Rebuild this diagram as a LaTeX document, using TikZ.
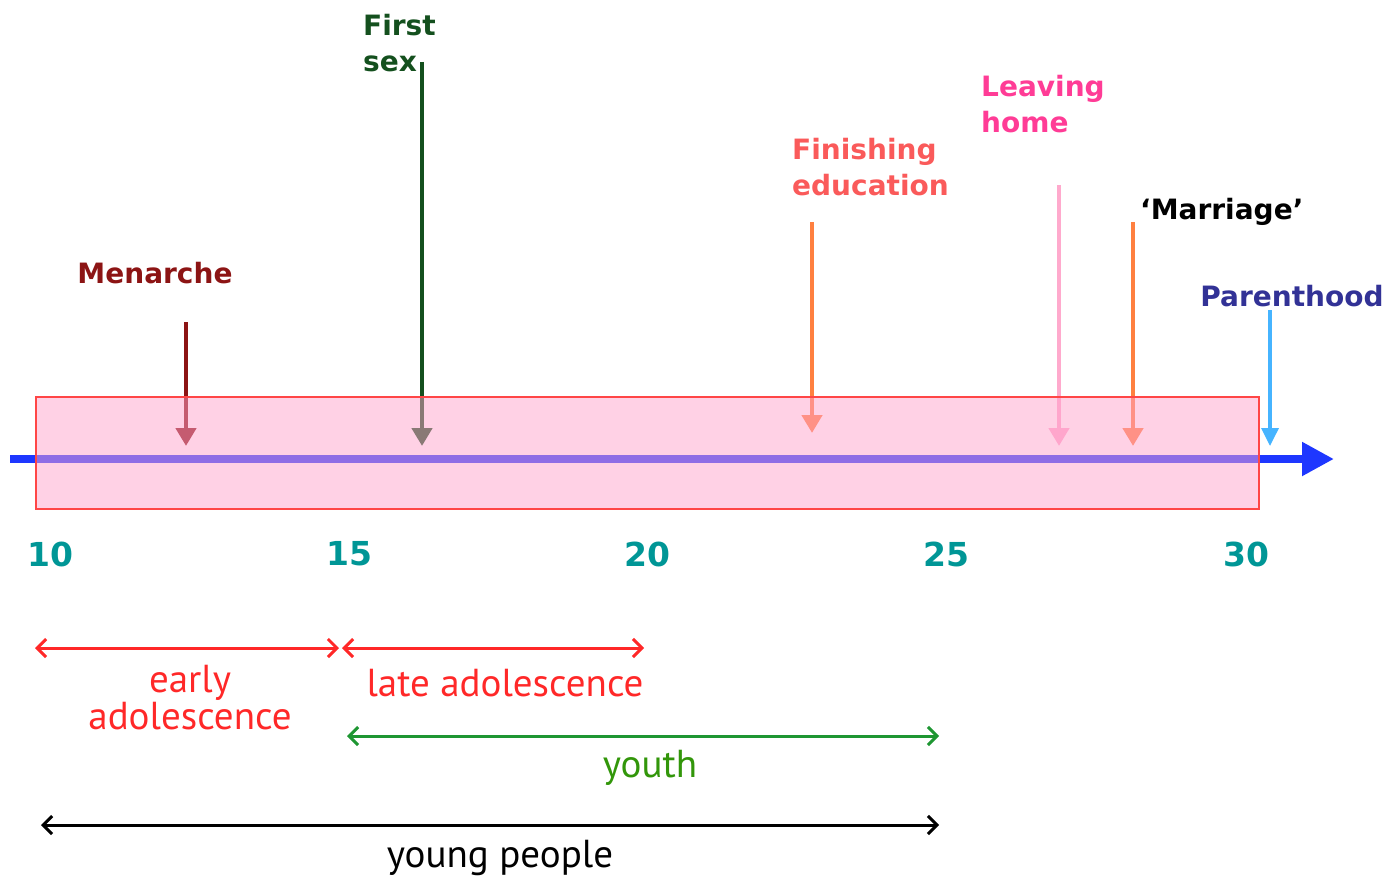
\documentclass[tikz,border=0pt]{standalone}
\usepackage{fontspec}
\setmainfont{DejaVu Sans}
\newfontfamily\ptsans{PT Sans}
\usetikzlibrary{arrows.meta}
\definecolor{axisblue}{RGB}{30,55,255}
\definecolor{boxpink}{RGB}{255,163,204}
\definecolor{boxline}{RGB}{255,70,70}
\definecolor{teal}{RGB}{0,150,150}
\definecolor{menred}{RGB}{140,20,20}
\definecolor{sexgreen}{RGB}{20,80,30}
\definecolor{eduorange}{RGB}{255,128,64}
\definecolor{edutext}{RGB}{250,90,90}
\definecolor{leavepink}{RGB}{255,170,205}
\definecolor{leavetext}{RGB}{255,60,150}
\definecolor{parblue}{RGB}{70,180,255}
\definecolor{partext}{RGB}{50,50,150}
\definecolor{spanred}{RGB}{255,40,40}
\definecolor{spangreen}{RGB}{30,150,50}
\definecolor{youthgreen}{RGB}{50,150,10}
\tikzset{
  evlabel/.style={font=\fontsize{28}{36}\selectfont\bfseries, inner sep=0pt, align=left},
  tick/.style={font=\fontsize{33}{36}\selectfont\bfseries, text=teal, inner sep=0pt},
  event/.style={line width=4.5pt, -{Triangle[width=20pt,length=18pt]}},
  span/.style={line width=3pt, {Straight Barb[width=18pt,length=9pt,line width=3pt]}-{Straight Barb[width=18pt,length=9pt,line width=3pt]}},
  spanlabel/.style={font=\ptsans\fontsize{39}{37}\selectfont, inner sep=0pt, align=center}
}
\begin{document}
\begin{tikzpicture}[x=1pt,y=-1pt]
\useasboundingbox (0,0) rectangle (1391,880);
% axis
\coordinate (axL) at (10,459);
\coordinate (axR) at (1334,459);
\draw[axisblue, line width=8pt, -{Triangle[width=32pt,length=32pt]}] (axL) -- (axR);
% event arrows
\coordinate (m1) at (186,322); \coordinate (m2) at (186,446);
\draw[event, menred] (m1) -- (m2);
\coordinate (s1) at (422,62); \coordinate (s2) at (422,446);
\draw[event, sexgreen] (s1) -- (s2);
\coordinate (e1) at (812,222); \coordinate (e2) at (812,433);
\draw[event, eduorange] (e1) -- (e2);
\coordinate (l1) at (1059,185); \coordinate (l2) at (1059,446);
\draw[event, leavepink] (l1) -- (l2);
\coordinate (w1) at (1133,222); \coordinate (w2) at (1133,446);
\draw[event, eduorange] (w1) -- (w2);
% box
\node[draw=boxline, line width=2pt, fill=boxpink, fill opacity=0.5, minimum width=1223pt, minimum height=112pt, inner sep=0pt, anchor=north west] (box) at (35,396) {};
% parenthood
\coordinate (p1) at (1270,310); \coordinate (p2) at (1270,446);
\draw[parblue, line width=3.5pt, -{Triangle[width=17pt,length=18pt]}] (p1) -- (p2);
% labels
\node[evlabel, text=menred] (menarche) at (155,273) {Menarche};
\node[evlabel, text=sexgreen, anchor=west] (firstsex) at (363,43) {First\\sex};
\node[evlabel, text=edutext, anchor=west] (edu) at (792,167) {Finishing\\education};
\node[evlabel, text=leavetext, anchor=west] (leave) at (981,104) {Leaving\\home};
\node[evlabel, text=black, anchor=west] (marriage) at (1140,212) {‘Marriage’};
\node[evlabel, text=partext] (parent) at (1292,296) {Parenthood};
% ticks
\node[tick] (t10) at (50,554) {10};
\node[tick] (t15) at (349,554) {15};
\node[tick] (t20) at (647,554) {20};
\node[tick] (t25) at (946,554) {25};
\node[tick] (t30) at (1246,554) {30};
% spans
\coordinate (ea1) at (35,648); \coordinate (ea2) at (339,648);
\draw[span, spanred] (ea1) -- (ea2);
\coordinate (la1) at (342,648); \coordinate (la2) at (644,648);
\draw[span, spanred] (la1) -- (la2);
\coordinate (y1) at (347,736); \coordinate (y2) at (939,736);
\draw[span, spangreen] (y1) -- (y2);
\coordinate (yp1) at (41,825); \coordinate (yp2) at (939,825);
\draw[span, black] (yp1) -- (yp2);
\node[spanlabel, text=spanred] (early) at (190,698) {early\\adolescence};
\node[spanlabel, text=spanred] (late) at (505,683) {late adolescence};
\node[spanlabel, text=youthgreen] (youth) at (650,768) {youth};
\node[spanlabel, text=black] (young) at (500,858) {young people};
\end{tikzpicture}
\end{document}
